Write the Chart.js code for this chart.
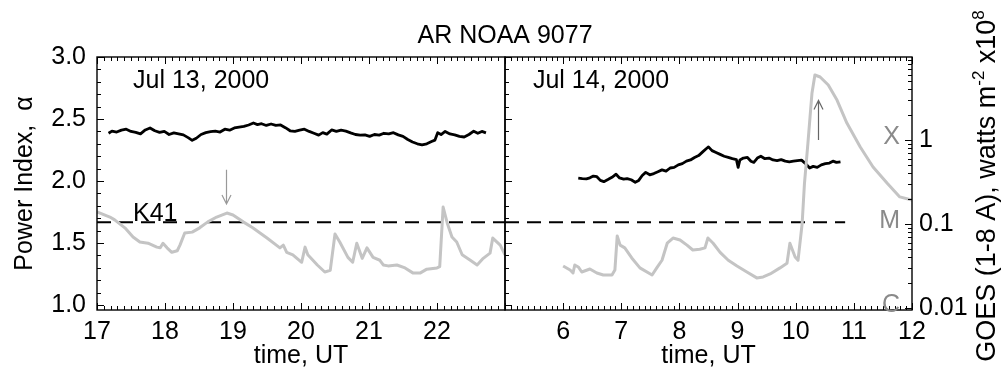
<!DOCTYPE html>
<html>
<head>
<meta charset="utf-8">
<script src="https://cdn.jsdelivr.net/npm/chart.js@4.4.1/dist/chart.umd.min.js"></script>
<style>
  html, body { margin: 0; padding: 0; background: #fff; }
  #wrap { position: relative; width: 1004px; height: 382px; }
  #wrap canvas { position: absolute; left: 0; top: 0; }
</style>
</head>
<body>
<div id="wrap">
  <canvas id="day13" width="1004" height="382"></canvas>
  <canvas id="day14" width="1004" height="382"></canvas>
</div>
<script>
// power index alpha, Jul 13 (hours UT)
const alphaTime13 = [17.17, 17.22, 17.29, 17.36, 17.43, 17.50, 17.57, 17.64, 17.71, 17.78, 17.85, 17.92, 17.99,
  18.06, 18.13, 18.20, 18.27, 18.34, 18.40, 18.46, 18.53, 18.60, 18.67, 18.74, 18.81, 18.88, 18.95,
  19.02, 19.09, 19.16, 19.23, 19.30, 19.36, 19.42, 19.49, 19.56, 19.63, 19.70, 19.77, 19.84, 19.91, 19.98,
  20.05, 20.12, 20.19, 20.26, 20.32, 20.38, 20.45, 20.52, 20.59, 20.66, 20.73, 20.80, 20.87, 20.94,
  21.01, 21.08, 21.15, 21.22, 21.29, 21.36, 21.43, 21.50, 21.57, 21.64, 21.71, 21.78, 21.85, 21.92, 21.97,
  22.01, 22.06, 22.12, 22.19, 22.26, 22.33, 22.40, 22.47, 22.54, 22.60, 22.66, 22.72];
const alpha13 = [2.385, 2.402, 2.395, 2.41, 2.418, 2.40, 2.392, 2.38, 2.412, 2.428, 2.405, 2.392, 2.40,
  2.375, 2.388, 2.38, 2.372, 2.35, 2.328, 2.345, 2.375, 2.39, 2.398, 2.402, 2.395, 2.418, 2.41,
  2.428, 2.435, 2.44, 2.452, 2.468, 2.455, 2.462, 2.448, 2.46, 2.448, 2.452, 2.43, 2.405, 2.40, 2.41,
  2.418, 2.40, 2.385, 2.37, 2.39, 2.378, 2.412, 2.40, 2.41, 2.402, 2.388, 2.375, 2.37, 2.372,
  2.36, 2.375, 2.37, 2.385, 2.38, 2.39, 2.372, 2.36, 2.335, 2.315, 2.30, 2.292, 2.30, 2.318, 2.33,
  2.39, 2.375, 2.40, 2.38, 2.372, 2.36, 2.355, 2.375, 2.402, 2.385, 2.40, 2.388];

// power index alpha, Jul 14
const alphaTime14 = [6.26, 6.33, 6.40, 6.46, 6.52, 6.58, 6.64, 6.70, 6.77, 6.84, 6.91, 6.97,
  7.04, 7.10, 7.17, 7.24, 7.30, 7.36, 7.42, 7.49, 7.56, 7.63, 7.70, 7.77, 7.84, 7.91, 7.98,
  8.05, 8.12, 8.19, 8.26, 8.33, 8.40, 8.46, 8.50, 8.56, 8.63, 8.70, 8.77, 8.84, 8.91, 8.98,
  9.01, 9.04, 9.10, 9.17, 9.23, 9.28, 9.34, 9.40, 9.47, 9.54, 9.61, 9.68, 9.75, 9.82, 9.89, 9.96,
  10.03, 10.10, 10.17, 10.24, 10.30, 10.37, 10.44, 10.51, 10.58, 10.64, 10.70, 10.77];
const alpha14 = [2.024, 2.02, 2.018, 2.026, 2.04, 2.035, 2.005, 1.995, 2.012, 2.03, 2.055, 2.025,
  2.015, 2.02, 2.01, 1.99, 2.005, 2.045, 2.07, 2.05, 2.06, 2.075, 2.09, 2.08, 2.105, 2.11, 2.13,
  2.14, 2.16, 2.17, 2.19, 2.205, 2.235, 2.26, 2.275, 2.245, 2.23, 2.215, 2.20, 2.19, 2.18, 2.172,
  2.11, 2.17, 2.185, 2.19, 2.16, 2.15, 2.185, 2.20, 2.18, 2.185, 2.17, 2.165, 2.172, 2.16, 2.155, 2.16,
  2.165, 2.168, 2.14, 2.105, 2.118, 2.11, 2.13, 2.14, 2.145, 2.16, 2.15, 2.155];

// GOES 1-8 A flux (watts m^-2 x10^8 as labelled)
const goesTime13 = [17.0, 17.19, 17.26, 17.41, 17.53, 17.63, 17.75, 17.88, 17.93, 17.97,
  18.03, 18.10, 18.18, 18.22, 18.29, 18.40, 18.51, 18.63, 18.76, 18.91,
  19.00, 19.15, 19.29, 19.50, 19.69, 19.74, 19.79, 19.88, 20.01, 20.06,
  20.10, 20.24, 20.35, 20.43, 20.50, 20.57, 20.69, 20.76, 20.82, 20.90,
  20.97, 21.06, 21.16, 21.21, 21.28, 21.41, 21.53, 21.65, 21.75, 21.85,
  22.00, 22.04, 22.09, 22.15, 22.22, 22.29, 22.37, 22.49, 22.59, 22.68,
  22.78, 22.82, 22.93, 23.00];
const goes13 = [0.139, 0.121, 0.112, 0.090, 0.070, 0.061, 0.059, 0.053, 0.052, 0.059,
  0.052, 0.046, 0.048, 0.056, 0.078, 0.080, 0.090, 0.106, 0.121, 0.135,
  0.128, 0.106, 0.090, 0.068, 0.052, 0.056, 0.046, 0.043, 0.035, 0.053,
  0.043, 0.0325, 0.0268, 0.028, 0.076, 0.061, 0.040, 0.035, 0.059, 0.039,
  0.052, 0.040, 0.037, 0.0325, 0.0317, 0.0325, 0.030, 0.026, 0.026, 0.029,
  0.030, 0.031, 0.159, 0.103, 0.070, 0.061, 0.043, 0.037, 0.0325, 0.039,
  0.045, 0.068, 0.056, 0.043];
const goesTime14 = [6.00, 6.12, 6.17, 6.20, 6.26, 6.32, 6.46, 6.58, 6.69, 6.84,
  6.89, 6.93, 6.98, 7.06, 7.18, 7.32, 7.53, 7.61, 7.70, 7.79,
  7.89, 8.01, 8.13, 8.23, 8.35, 8.44, 8.49, 8.58, 8.70, 8.84,
  8.99, 9.16, 9.33, 9.44, 9.56, 9.73, 9.85, 9.90, 9.99, 10.04,
  10.11, 10.15, 10.21, 10.28, 10.33, 10.42, 10.56, 10.71, 10.88, 11.11,
  11.33, 11.57, 11.79, 12.00];
const goes14 = [0.0316, 0.0283, 0.0261, 0.0325, 0.0308, 0.0268, 0.0291, 0.0261, 0.0247, 0.0247,
  0.0283, 0.072, 0.056, 0.052, 0.0394, 0.030, 0.0247, 0.030, 0.037, 0.059,
  0.068, 0.0645, 0.056, 0.049, 0.050, 0.052, 0.068, 0.059, 0.046, 0.037,
  0.0316, 0.0268, 0.0228, 0.0234, 0.0254, 0.030, 0.034, 0.059, 0.0405, 0.037,
  0.10, 0.30, 0.92, 3.63, 5.94, 5.62, 4.52, 2.99, 1.59, 0.826,
  0.477, 0.308, 0.210, 0.193];

// Kolmogorov K41 level and where the dashed line runs
const k41 = 5 / 3;
const k41Span13 = [17, 23];
const k41Span14 = [5, 10.85];

// axes
const hourTicks13 = [17, 18, 19, 20, 21, 22];
const hourTicks14 = [6, 7, 8, 9, 10, 11, 12];
const alphaTicks = [1.0, 1.5, 2.0, 2.5, 3.0];
const goesTicks = [0.01, 0.1, 1];
const goesTickLabels = ['0.01', '0.1', '1'];
const flareClasses = ['C', 'M', 'X'];

// flare arrows: [time, alpha start, alpha tip]
const arrow13 = [18.9, 2.09, 1.815];
const arrow14 = [10.38, 2.33, 2.65];

const FONT = "'Liberation Sans', Arial, Helvetica, sans-serif";
const font = { family: FONT, size: 25 };
Chart.defaults.font.family = FONT;
Chart.defaults.color = '#000';

const pts = (xs, ys) => xs.map((x, i) => ({ x, y: ys[i] }));

// IDL style frame: box plus inward ticks
const frame = {
  id: 'frame',
  afterDraw(chart, args, opts) {
    const { ctx, chartArea: a, scales } = chart;
    const x = scales.x, ya = scales.a, yg = scales.g;
    ctx.save();
    ctx.strokeStyle = '#000';
    ctx.lineWidth = 1.4;
    ctx.strokeRect(a.left, a.top, a.right - a.left, a.bottom - a.top);
    ctx.lineWidth = 1;
    ctx.beginPath();
    for (let t = Math.ceil(x.min * 10); t <= Math.floor(x.max * 10 + 0.01); t++) {
      const px = Math.round(x.getPixelForValue(t / 10)) + 0.5;
      const len = t % 10 === 0 ? 7 : 4;
      ctx.moveTo(px, a.bottom); ctx.lineTo(px, a.bottom - len);
      ctx.moveTo(px, a.top); ctx.lineTo(px, a.top + len);
    }
    for (let t = Math.ceil(ya.min * 10); t <= Math.floor(ya.max * 10 + 0.01); t++) {
      const py = Math.round(ya.getPixelForValue(t / 10)) + 0.5;
      const len = t % 5 === 0 ? 7 : 4;
      ctx.moveTo(a.left, py); ctx.lineTo(a.left + len, py);
    }
    if (opts.logTicks) {
      goesTicks.forEach(d => {
        for (let m = 1; m <= 9; m++) {
          const v = m * d;
          if (v < yg.min || v > yg.max) continue;
          const py = Math.round(yg.getPixelForValue(v)) + 0.5;
          ctx.moveTo(a.right, py); ctx.lineTo(a.right - (m === 1 ? 7 : 4), py);
        }
      });
    }
    ctx.stroke();
    ctx.restore();
  }
};

// labels, arrows and flare classes
const notes = {
  id: 'notes',
  afterDraw(chart, args, opts) {
    const { ctx, chartArea: a, scales } = chart;
    const x = scales.x, ya = scales.a, yg = scales.g;
    ctx.save();
    ctx.font = `25px ${FONT}`;
    ctx.fillStyle = '#000';
    ctx.textBaseline = 'alphabetic';
    ctx.textAlign = 'left';
    ctx.fillText(opts.date, x.getPixelForValue(opts.dateAt[0]), ya.getPixelForValue(opts.dateAt[1]));
    if (opts.k41Label) {
      ctx.fillText('K41', x.getPixelForValue(opts.k41Label), ya.getPixelForValue(k41) - 1);
    }
    // arrow
    const [t, y0, y1] = opts.arrow;
    const ax = Math.round(x.getPixelForValue(t)) + 0.5;
    const p0 = ya.getPixelForValue(y0), p1 = ya.getPixelForValue(y1);
    const dir = p1 > p0 ? 1 : -1;
    ctx.strokeStyle = opts.arrowColor;
    ctx.lineWidth = 1.2;
    ctx.beginPath();
    ctx.moveTo(ax, p0); ctx.lineTo(ax, p1);
    ctx.moveTo(ax - 4.5, p1 - dir * 9); ctx.lineTo(ax, p1); ctx.lineTo(ax + 4.5, p1 - dir * 9);
    ctx.stroke();
    if (opts.classes) {
      ctx.fillStyle = '#8a8a8a';
      ctx.textAlign = 'right';
      flareClasses.forEach((c, i) => {
        ctx.fillText(c, a.right - 12, yg.getPixelForValue(goesTicks[i]) + 4);
      });
    }
    if (opts.title) {
      ctx.fillStyle = '#000';
      ctx.textAlign = 'center';
      ctx.fillText(opts.title, 505, 43);
    }
    if (opts.goesTitle) {
      const big = `27px ${FONT}`, small = `17px ${FONT}`;
      const parts = [['GOES (1-8 A), watts m', big, 0], ['-2', small, -11], [' x10', big, 0], ['8', small, -11]];
      let w = 0;
      parts.forEach(p => { ctx.font = p[1]; w += ctx.measureText(p[0]).width; });
      ctx.translate(985, 186);
      ctx.rotate(-Math.PI / 2);
      ctx.fillStyle = '#000';
      ctx.textAlign = 'left';
      let cx = -w / 2;
      parts.forEach(p => {
        ctx.font = p[1];
        ctx.fillText(p[0], cx, 10 + p[2]);
        cx += ctx.measureText(p[0]).width;
      });
    }
    ctx.restore();
  }
};

const goesRange = { min: 0.00946, max: 9.73 };
const alphaRange = { min: 0.96, max: 3.0 };

function xScale(min, max, ticks) {
  return {
    type: 'linear', min, max,
    grid: { display: false, drawTicks: false },
    border: { display: false },
    afterBuildTicks: s => { s.ticks = ticks.map(v => ({ value: v })); },
    ticks: { font, color: '#000', padding: 7, maxRotation: 0, autoSkip: false },
    title: { display: true, text: 'time, UT', font, color: '#000', padding: { top: 0, bottom: 11 } },
    afterFit: s => { s.height = 72; }
  };
}

function datasets(gt, gv, span, at, av) {
  return [
    { data: pts(gt, gv), yAxisID: 'g', borderColor: '#c4c4c4', borderWidth: 3 },
    { data: pts(span, [k41, k41]), yAxisID: 'a', borderColor: '#000', borderWidth: 2, borderDash: [14, 8] },
    { data: pts(at, av), yAxisID: 'a', borderColor: '#000', borderWidth: 2.8 }
  ];
}

const common = {
  responsive: false,
  animation: false,
  events: [],
  elements: { point: { radius: 0 }, line: { tension: 0, borderJoinStyle: 'round' } },
};

new Chart(document.getElementById('day13'), {
  type: 'line',
  data: { datasets: datasets(goesTime13, goes13, k41Span13, alphaTime13, alpha13) },
  options: {
    ...common,
    layout: { padding: { left: 0, right: 499, top: 57, bottom: 0 } },
    plugins: {
      legend: { display: false }, tooltip: { enabled: false },
      frame: { logTicks: false },
      notes: { date: 'Jul 13, 2000', dateAt: [17.53, 2.75], k41Label: 17.53, arrow: arrow13,
               arrowColor: '#999', title: 'AR NOAA 9077' }
    },
    scales: {
      x: xScale(17, 23, hourTicks13),
      a: {
        position: 'left', ...alphaRange,
        grid: { display: false, drawTicks: false }, border: { display: false },
        afterBuildTicks: s => { s.ticks = alphaTicks.map(v => ({ value: v })); },
        ticks: { font, color: '#000', padding: 11, callback: v => v.toFixed(1) },
        title: { display: true, text: 'Power Index,  α', font, color: '#000', padding: { top: 10, bottom: 0 } },
        afterFit: s => { s.width = 97; }
      },
      g: { type: 'logarithmic', display: false, ...goesRange }
    }
  },
  plugins: [frame, notes]
});

new Chart(document.getElementById('day14'), {
  type: 'line',
  data: { datasets: datasets(goesTime14, goes14, k41Span14, alphaTime14, alpha14) },
  options: {
    ...common,
    layout: { padding: { left: 505, right: 0, top: 57, bottom: 0 } },
    plugins: {
      legend: { display: false }, tooltip: { enabled: false },
      frame: { logTicks: true },
      notes: { date: 'Jul 14, 2000', dateAt: [5.48, 2.75], arrow: arrow14, arrowColor: '#666',
               classes: true, goesTitle: true }
    },
    scales: {
      x: xScale(5, 12, hourTicks14),
      a: { position: 'left', display: false, ...alphaRange },
      g: {
        type: 'logarithmic', position: 'right', ...goesRange,
        grid: { display: false, drawTicks: false }, border: { display: false },
        afterBuildTicks: s => { s.ticks = goesTicks.map(v => ({ value: v })); },
        ticks: { font, color: '#000', padding: 7, callback: (v, i) => goesTickLabels[i] },
        afterFit: s => { s.width = 92; }
      }
    }
  },
  plugins: [frame, notes]
});
</script>
</body>
</html>
